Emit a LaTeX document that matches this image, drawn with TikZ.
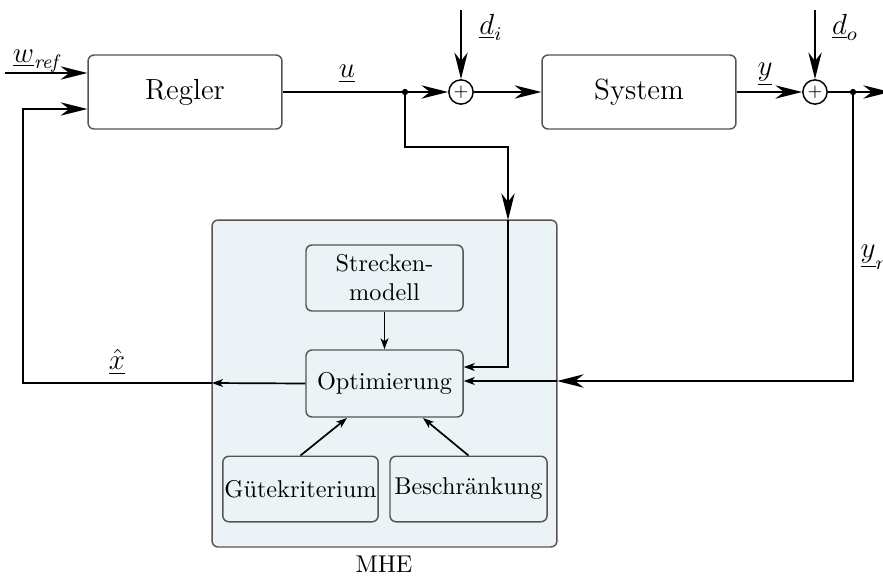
\documentclass[tikz,border=0pt]{standalone}
\usetikzlibrary{arrows.meta}
\definecolor{boxgray}{HTML}{555555}
\definecolor{mhefill}{HTML}{ECF3F7}
\begin{document}
\begin{tikzpicture}[x=0.412pt,y=-0.412pt,
  blk/.style={draw=boxgray,line width=0.6pt,rounded corners=2.5pt,inner sep=0pt,align=center},
  sumnode/.style={draw,circle,line width=0.6pt,minimum size=10pt,inner sep=0pt,font=\scriptsize},
  sig/.style={line width=0.7pt},
  big/.style={sig,-{Stealth[length=11pt,width=5.5pt,inset=3.5pt]}},
  small/.style={sig,-{Stealth[length=4.5pt,width=3.2pt,inset=1.2pt]}},
  lbl/.style={font=\large},
  dot/.style={circle,fill,inner sep=0pt,minimum size=2.6pt}]
\useasboundingbox (0,0) rectangle (883,579);
% MHE container
\node[blk,fill=mhefill,minimum width=142.1pt,minimum height=134.7pt] (mhe) at (384.5,383.5) {};
\node (mhelbl) at (384,564) {MHE};
% blocks
\node[blk,minimum width=79.9pt,minimum height=30.5pt,font=\large] (regler) at (185,92) {Regler};
\node[blk,minimum width=79.9pt,minimum height=30.5pt,font=\large] (system) at (639,92) {System};
\node[blk,minimum width=64.7pt,minimum height=27.2pt] (strecke) at (384.5,278) {Strecken-\\modell};
\node[blk,minimum width=64.7pt,minimum height=27.6pt] (optim) at (384.5,383.5) {Optimierung};
\node[blk,minimum width=64pt,minimum height=27pt] (guete) at (300.5,489) {G\"utekriterium};
\node[blk,minimum width=64.7pt,minimum height=27pt] (beschr) at (468.5,489) {Beschr\"ankung};
% sums
\node[sumnode] (sum1) at (461,92) {$+$};
\node[sumnode] (sum2) at (815,92) {$+$};
% coordinates
\coordinate (wref) at (5,73);
\coordinate (di) at (461,10);
\coordinate (do) at (815,10);
\coordinate (out) at (890,92);
\node[dot] (j1) at (405,92) {};
\node[dot] (j2) at (853,92) {};
\coordinate (c1) at (405,147);
\coordinate (c2) at (508,147);
\coordinate (c3) at (508,220);
\coordinate (c4) at (853,381);
\coordinate (c5) at (557,381);
\coordinate (c6) at (212,383);
\coordinate (c7) at (23,383);
\coordinate (c8) at (23,109);
% connectors
\draw[big] (wref) -- (wref -| regler.west);
\draw[big] (regler.east) -- (sum1.west);
\draw[big] (sum1.east) -- (system.west);
\draw[big] (di) -- (sum1.north);
\draw[big] (system.east) -- (sum2.west);
\draw[big] (do) -- (sum2.north);
\draw[big] (sum2.east) -- (out);
\draw[big] (j1.center) -- (c1) -- (c2) -- (c3);
\draw[small] (c3) -- (508,367) -- (optim.east |- 0,367);
\draw[big] (j2.center) -- (c4) -- (c5);
\draw[small] (c5) -- (optim.east |- c5);
\draw[small] (optim.west) -- (c6);
\draw[big] (c6) -- (c7) -- (c8) -- (c8 -| regler.west);
\draw[small] (strecke.south) -- (optim.north);
\draw[small] (guete.north) -- (347,418);
\draw[small] (beschr.north) -- (423,418);
% labels
\node[lbl] (lw) at (38,61) {$\underline{w}_{\mathit{ref}}$};
\node[lbl] (lu) at (347,74) {$\underline{u}$};
\node[lbl] (ldi) at (491,27) {$\underline{d}_i$};
\node[lbl] (ldo) at (845,27) {$\underline{d}_o$};
\node[lbl] (ly) at (765,74) {$\underline{y}$};
\node[lbl,anchor=west] (lym) at (852,257) {$\underline{y}_m$};
\node[lbl] (lx) at (117,362) {$\underline{\hat{x}}$};
\end{tikzpicture}
\end{document}
